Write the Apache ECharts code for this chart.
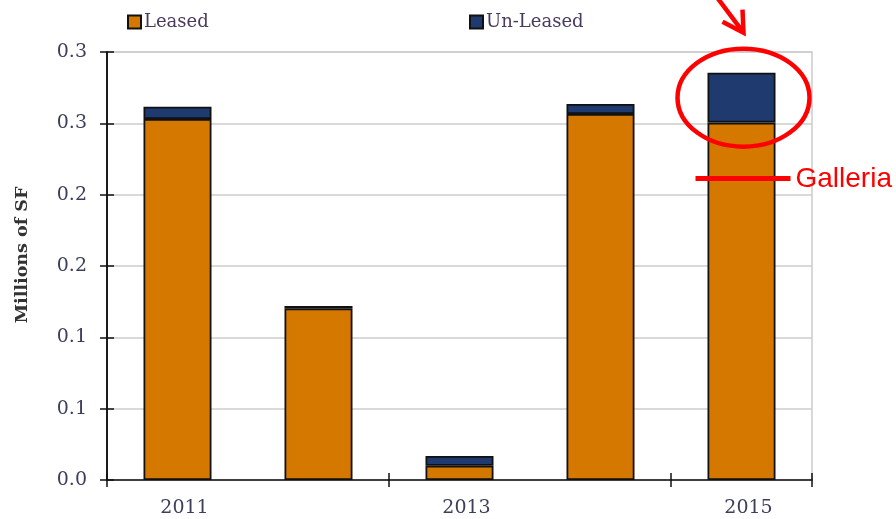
<!DOCTYPE html>
<html><head><meta charset="utf-8">
<script src="https://cdn.jsdelivr.net/npm/echarts@6/dist/echarts.min.js"></script>
<style>html,body{margin:0;padding:0;background:#fff}#c{width:896px;height:519px}</style>
</head><body><div id="c"></div>
<script>
var categories = ['2011','2012','2013','2014','2015'];
var xTickLabels = ['2011','','2013','','2015'];
var leased = [0.2530, 0.1203, 0.0100, 0.2565, 0.2505];
var unleased = [0.0087, 0.0017, 0.0068, 0.0070, 0.0350];
var yTickValues = [0, 0.05, 0.1, 0.15, 0.2, 0.25, 0.3];
var yTickLabels = ['0.0','0.1','0.1','0.2','0.2','0.3','0.3'];

var serif = '"DejaVu Serif", "Liberation Serif", serif';
var txtColor = '#3b3f5c';
var chart = echarts.init(document.getElementById('c'));
var option = {
  animation: false,
  grid: {left: 107, right: 84, top: 52, bottom: 39, show: true, borderColor: '#cccccc', borderWidth: 1.5},
  legend: [
    {left: 122, top: 8, itemWidth: 13, itemHeight: 13, icon: 'rect', itemGap: 6, data: ['Leased'],
     textStyle: {fontFamily: serif, fontSize: 18, color: '#4a3a5e', padding: [0, 0, 0, -2]}},
    {left: 464, top: 8, itemWidth: 13, itemHeight: 13, icon: 'rect', data: ['Un-Leased'],
     textStyle: {fontFamily: serif, fontSize: 18, color: '#4a3a5e', padding: [0, 0, 0, -2]}}
  ],
  xAxis: [{
    type: 'category', data: categories, boundaryGap: true,
    axisLine: {lineStyle: {color: '#111', width: 1.5}},
    axisTick: {show: true, interval: 1, length: 7, lineStyle: {color: '#111', width: 1.5}},
    axisLabel: {interval: 0, margin: 19, fontFamily: serif, fontSize: 19, color: txtColor, padding: [0, 0, 0, 14],
      formatter: function (v, i) { return xTickLabels[i]; }}
  }, {
    type: 'category', data: categories, position: 'bottom', boundaryGap: true, z: 5,
    axisLine: {show: false},
    axisTick: {show: true, inside: true, interval: 1, length: 7, lineStyle: {color: '#111', width: 1.5}},
    axisLabel: {show: false}
  }],
  yAxis: [{
    type: 'value', min: 0, max: 0.3, interval: 0.05,
    name: 'Millions of SF', nameLocation: 'middle', nameGap: 76, nameRotate: 90,
    nameTextStyle: {fontFamily: serif, fontSize: 17.5, color: '#333', fontWeight: 'bold', padding: [0, 0, 0, 22]},
    axisLine: {show: true, lineStyle: {color: '#111', width: 1.5}},
    axisTick: {show: true, length: 7, lineStyle: {color: '#111', width: 1.5}},
    axisLabel: {margin: 20, fontFamily: serif, fontSize: 19, color: txtColor,
      formatter: function (v) {
        for (var i = 0; i < yTickValues.length; i++) if (Math.abs(v - yTickValues[i]) < 1e-9) return yTickLabels[i];
        return '';
      }},
    splitLine: {show: true, lineStyle: {color: '#cccccc', width: 1.5}}
  }, {
    type: 'value', min: 0, max: 0.3, interval: 0.05, position: 'left', offset: 0, z: 5,
    axisLine: {show: true, lineStyle: {color: '#111', width: 1.5}},
    axisTick: {show: true, inside: true, length: 7, lineStyle: {color: '#111', width: 1.5}},
    axisLabel: {show: false}, splitLine: {show: false}
  }],
  series: [
    {name: 'Leased', type: 'bar', stack: 'a', data: leased, barWidth: 68,
     itemStyle: {color: '#d47800', borderColor: '#111', borderWidth: 1.8}},
    {name: 'Un-Leased', type: 'bar', stack: 'a', data: unleased, barWidth: 68,
     itemStyle: {color: '#1f3a6e', borderColor: '#111', borderWidth: 1.8}}
  ]
};
chart.setOption(option);

// annotations anchored to the 2015 bar
var idx = categories.length - 1;
var top2015 = chart.convertToPixel({gridIndex: 0}, [idx, leased[idx] + unleased[idx]]);
var lease2015 = chart.convertToPixel({gridIndex: 0}, [idx, leased[idx]]);
var cx = top2015[0] + 2;
var cy = (top2015[1] + lease2015[1]) / 2;
var red = '#ff0000';
chart.setOption({
  graphic: [
    {type: 'ellipse', shape: {cx: cx, cy: cy, rx: 66, ry: 49}, style: {fill: 'none', stroke: red, lineWidth: 4.5}, z: 100},
    {type: 'line', shape: {x1: cx - 26, y1: -2, x2: cx, y2: top2015[1] - 40}, style: {stroke: red, lineWidth: 4.5}, z: 100},
    {type: 'polyline', shape: {points: [[cx - 21, top2015[1] - 51], [cx, top2015[1] - 40], [cx - 1, top2015[1] - 63]]}, style: {stroke: red, lineWidth: 4.5, fill: 'none'}, z: 100},
    {type: 'line', shape: {x1: cx - 48, y1: lease2015[1] + 56, x2: cx + 47, y2: lease2015[1] + 56}, style: {stroke: red, lineWidth: 5}, z: 100},
    {type: 'text', x: cx + 52, y: lease2015[1] + 57, style: {text: 'Galleria', fill: red, font: '28px "Liberation Sans", Arial, sans-serif', verticalAlign: 'middle', textAlign: 'left'}, z: 100}
  ]
});
</script></body></html>
